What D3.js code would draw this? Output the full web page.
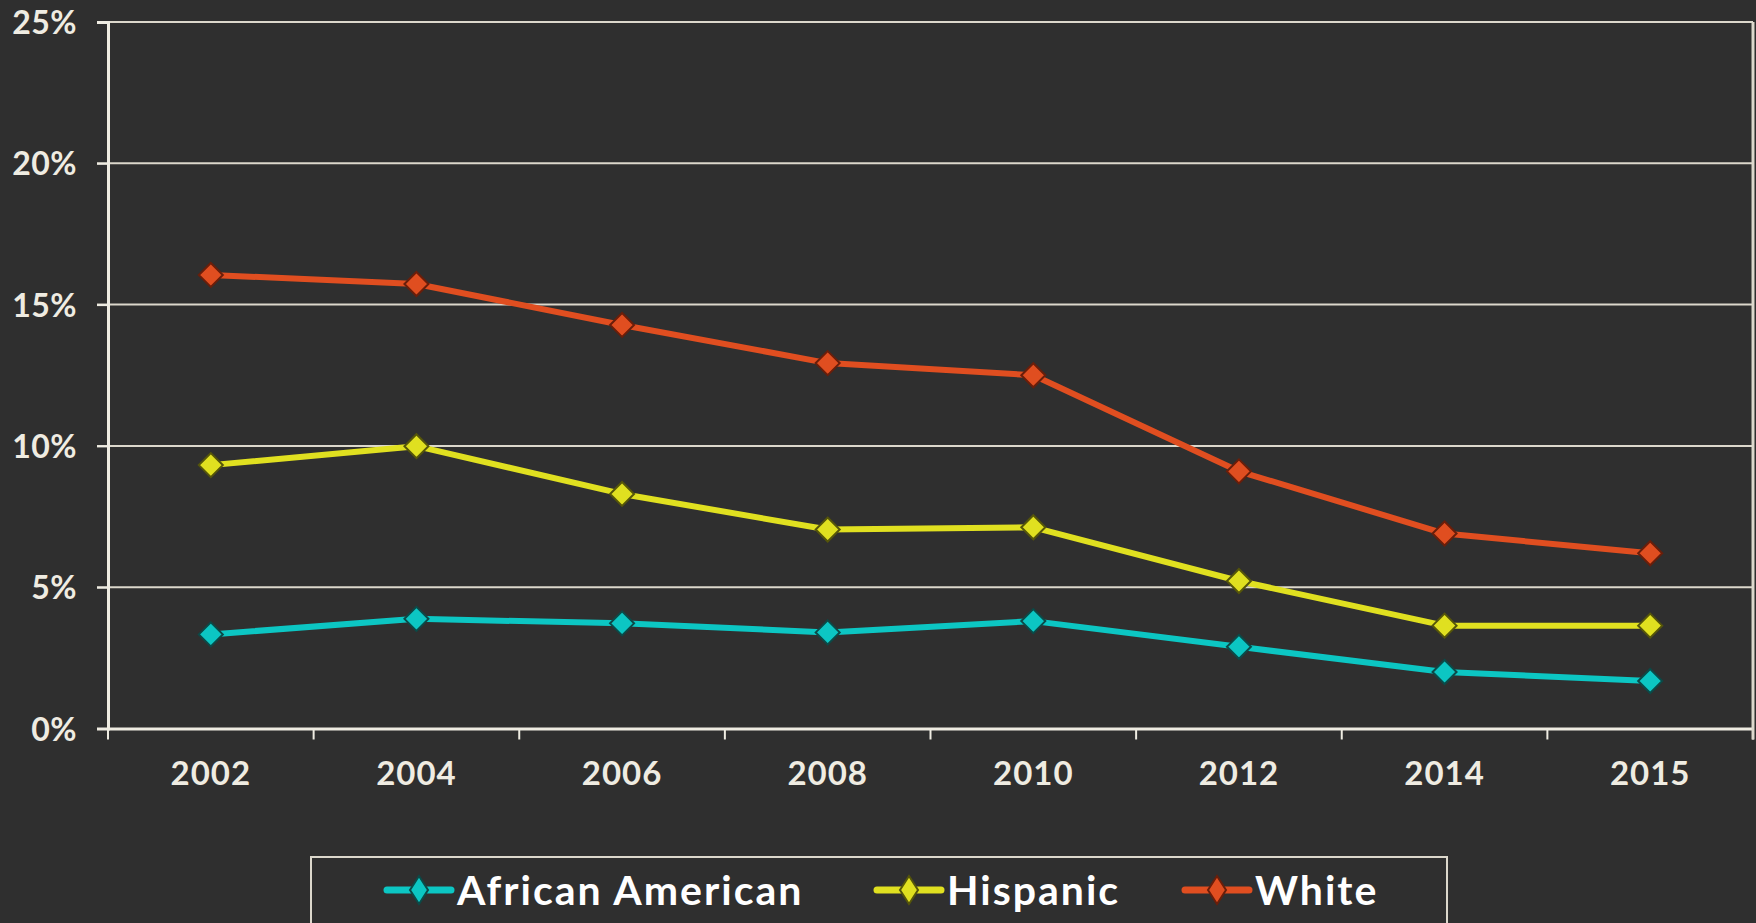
<!DOCTYPE html>
<html>
<head>
<meta charset="utf-8">
<script src="https://cdn.jsdelivr.net/npm/d3@7"></script>
<style>
  html, body { margin: 0; padding: 0; background: #2f2f2f; overflow: hidden; }
  svg { display: block; }
</style>
</head>
<body>
<div id="chart"></div>
<script>
const years = ["2002", "2004", "2006", "2008", "2010", "2012", "2014", "2015"];
const africanAmerican = [3.33, 3.88, 3.72, 3.4, 3.8, 2.89, 2.0, 1.68];
const hispanic = [9.32, 9.99, 8.3, 7.04, 7.12, 5.22, 3.64, 3.64];
const white = [16.05, 15.73, 14.28, 12.93, 12.5, 9.1, 6.9, 6.2];
const yTicks = [0, 5, 10, 15, 20, 25];

const series = [
    { name: "African American", values: africanAmerican, color: "#0cc6c3", dark: "#0b4a48" },
    { name: "Hispanic", values: hispanic, color: "#e0e020", dark: "#55550a" },
    { name: "White", values: white, color: "#e04e20", dark: "#6a1e0a" }
];

const width = 1756, height = 923;
const cream = "#efece2";
const font = "Lato, 'Open Sans', sans-serif";

const svg = d3.select("#chart").append("svg")
    .attr("width", width)
    .attr("height", height);

const x = d3.scaleBand().domain(years).range([108, 1753]);
const y = d3.scaleLinear().domain([0, 25]).range([728.5, 22]);

// horizontal gridlines
svg.append("g").selectAll("line")
    .data(yTicks.filter(d => d > 0))
    .join("line")
    .attr("x1", 97)
    .attr("x2", 1753)
    .attr("y1", d => y(d))
    .attr("y2", d => y(d))
    .attr("stroke", "#dcd8cc")
    .attr("stroke-width", 2);

// y axis
const yAxis = svg.append("g")
    .attr("transform", "translate(108,0)")
    .call(d3.axisLeft(y).tickValues(yTicks).tickSize(11).tickFormat(d => d + "%"));
yAxis.select(".domain").attr("stroke", cream).attr("stroke-width", 3);
yAxis.selectAll(".tick line").attr("stroke", cream).attr("stroke-width", 2);
yAxis.selectAll(".tick text")
    .attr("x", -31)
    .attr("dy", "0.36em")
    .attr("fill", cream)
    .attr("font-family", font)
    .attr("font-weight", 700)
    .attr("font-size", 32)
    .attr("letter-spacing", 0.5);

// x axis with ticks between categories
const xAxis = svg.append("g")
    .attr("transform", `translate(0,${y(0)})`)
    .call(d3.axisBottom(x).tickSize(0).tickPadding(33));
xAxis.select(".domain").attr("stroke", cream).attr("stroke-width", 3);
xAxis.selectAll(".tick text")
    .attr("fill", cream)
    .attr("font-family", font)
    .attr("font-weight", 700)
    .attr("font-size", 33)
    .attr("letter-spacing", 1);

const bounds = years.map(d => x(d)).concat([x.range()[1]]);
svg.append("g").selectAll("line")
    .data(bounds)
    .join("line")
    .attr("x1", d => d)
    .attr("x2", d => d)
    .attr("y1", y(0))
    .attr("y2", y(0) + 11)
    .attr("stroke", cream)
    .attr("stroke-width", 2);

// right border
svg.append("line")
    .attr("x1", 1753).attr("x2", 1753)
    .attr("y1", y(25)).attr("y2", y(0) + 11)
    .attr("stroke", "#dcd8cc")
    .attr("stroke-width", 3);

const line = d3.line()
    .x((d, i) => x(years[i]) + x.bandwidth() / 2)
    .y(d => y(d));

const diamond = s => `M0,${-s}L${s},0L0,${s}L${-s},0Z`;

series.forEach(s => {
    svg.append("path")
        .datum(s.values)
        .attr("fill", "none")
        .attr("stroke", s.color)
        .attr("stroke-width", 6)
        .attr("stroke-linejoin", "round")
        .attr("d", line);

    svg.append("g").selectAll("path")
        .data(s.values)
        .join("path")
        .attr("transform", (d, i) => `translate(${x(years[i]) + x.bandwidth() / 2},${y(d)})`)
        .attr("d", diamond(12))
        .attr("fill", s.color)
        .attr("stroke", s.dark)
        .attr("stroke-width", 2);
});

// legend
svg.append("rect")
    .attr("x", 311)
    .attr("y", 857)
    .attr("width", 1136)
    .attr("height", 100)
    .attr("fill", "none")
    .attr("stroke", "#dcd8cc")
    .attr("stroke-width", 2);

const legendX = [387, 877, 1185];
const legend = svg.append("g").selectAll("g")
    .data(series)
    .join("g")
    .attr("transform", (d, i) => `translate(${legendX[i]},890)`);

legend.append("line")
    .attr("x1", 0).attr("x2", 64)
    .attr("stroke", d => d.color)
    .attr("stroke-width", 7)
    .attr("stroke-linecap", "round");
legend.append("path")
    .attr("transform", "translate(32,0)")
    .attr("d", "M0,-14L9,0L0,14L-9,0Z")
    .attr("fill", d => d.color)
    .attr("stroke", d => d.dark)
    .attr("stroke-width", 2);
legend.append("text")
    .attr("x", 70)
    .attr("dy", "0.36em")
    .attr("fill", "#ffffff")
    .attr("font-family", font)
    .attr("font-weight", 700)
    .attr("font-size", 41)
    .attr("letter-spacing", 2)
    .text(d => d.name);
</script>
</body>
</html>
